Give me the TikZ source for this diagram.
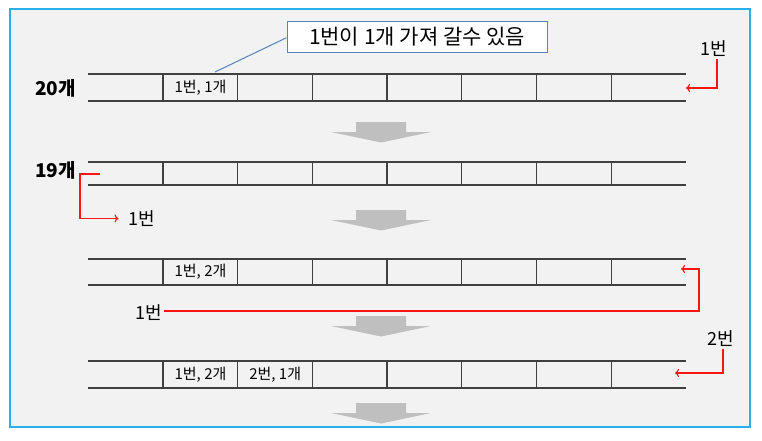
\documentclass[tikz,border=0pt]{standalone}
\usepackage{fontspec}
\usetikzlibrary{arrows.meta}
\setmainfont{Noto Sans CJK KR}
\definecolor{framecol}{RGB}{40,176,232}
\definecolor{bgcol}{RGB}{242,242,242}
\definecolor{notecol}{RGB}{84,130,186}
\definecolor{redcol}{RGB}{250,20,20}
\definecolor{rowcol}{RGB}{64,64,64}
\definecolor{bigarrcol}{RGB}{191,191,191}
\tikzset{
  rowline/.style={draw=rowcol, line width=1.3pt},
  redarr/.style={draw=redcol, line width=1.1pt, -{To[length=4pt,width=8pt]}},
  bigarr/.style={fill=bigarrcol, draw=none},
  celltxt/.style={inner sep=0pt, font=\fontsize{15}{17}\selectfont},
  numtxt/.style={inner sep=2pt, font=\fontsize{18}{20}\selectfont},
  cnttxt/.style={inner sep=0pt, font=\fontsize{19}{21}\selectfont\bfseries},
}
\begin{document}
\begin{tikzpicture}[x=1pt, y=-1pt]
\useasboundingbox (0,0) rectangle (762,440);
\draw [framecol, fill=bgcol, line width=1.5pt] (10,9) rectangle (750,427); %ramen

%rader med celler
\foreach \top/\bot in {74/101, 162/185, 259/285, 361/388}{
  \draw [rowline] (88,\top) -- (686,\top);
  \draw [rowline] (88,\bot) -- (686,\bot);
  \foreach \k in {0,...,6}
    \draw [rowline] (163+74.7*\k,\top) -- (163+74.7*\k,\bot);
}

%grå pilar nedåt
\foreach \t in {122, 210, 316, 403}
  \fill [bigarr] (356,\t) -- (406,\t) -- (406,\t+10) -- (431,\t+10) -- (381,\t+20.5) -- (331,\t+10) -- (356,\t+10) -- cycle;

\node [cnttxt] (cnt1) at (55.5,88) {20개};
\node [cnttxt] (cnt2) at (55.5,170.5) {19개};

\node [celltxt] (c11) at (200.5,88) {1번, 1개};
\node [celltxt] (c31) at (200.5,272) {1번, 2개};
\node [celltxt] (c41) at (200.5,375) {1번, 2개};
\node [celltxt] (c42) at (275.2,375) {2번, 1개};

%pratbubbla
\node [draw=notecol, line width=1pt, fill=white, minimum width=260pt, minimum height=31pt,
       font=\fontsize{21}{23}\selectfont] (note) at (417,36.5) {1번이 1개 가져 갈수 있음};
\coordinate (tip) at (215,72);
\draw [notecol, line width=1pt] (tip) -- (note.west |- 0,37.7);

%röda pilar
\node [numtxt] (n1) at (714,48.5) {1번};
\coordinate (in1) at (686,88);
\draw [redarr] (n1.south -| 717,0) |- (in1);

\coordinate (out2) at (100,174);
\node [numtxt] (n2) at (142,218.5) {1번};
\draw [redarr, shorten >=8pt] (out2) -- ++(-20,0) |- (n2.west);

\node [numtxt] (n3) at (149,313) {1번};
\coordinate (in3) at (681,269);
\draw [redarr] (n3.east |- 0,311) -- (699,311) |- (in3);

\node [numtxt] (n4) at (720.5,339) {2번};
\coordinate (in4) at (675,373);
\draw [redarr] (n4.south -| 723,0) |- (in4);
\end{tikzpicture}
\end{document}
